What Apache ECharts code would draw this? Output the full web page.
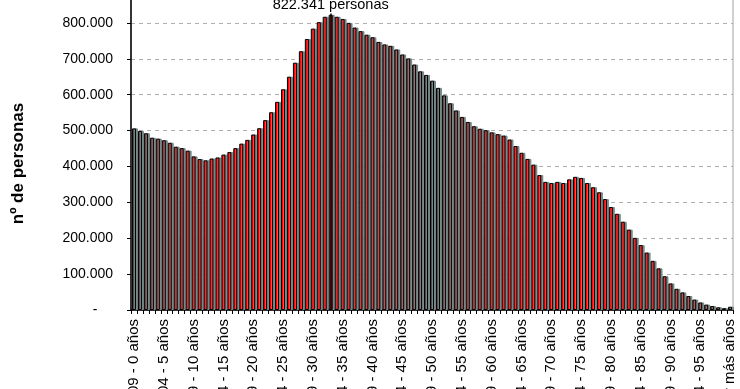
<!DOCTYPE html>
<html>
<head>
<meta charset="utf-8">
<script src="https://cdn.jsdelivr.net/npm/echarts@6/dist/echarts.min.js"></script>
<style>
html,body{margin:0;padding:0;background:#fff;}
#c{width:740px;height:389px;}
</style>
</head>
<body>
<div id="c"></div>
<script>
// Age (years) 0..100 ; 100 = "y más"
const refYear = 2009;
const lastAge = 100;
const personas = [
  506000, 499000, 492500, 480000, 477500, 473000, 466000, 455000, 451000, 444000,
  428000, 420500, 417000, 422000, 425000, 433000, 440000, 451000, 463500, 474000,
  489000, 506500, 529000, 551000, 580000, 615000, 650000, 689000, 721000, 755000,
  784000, 802000, 817000, 822341, 817000, 811000, 800000, 787000, 777000, 767000,
  760000, 747000, 740000, 736000, 726000, 712000, 701000, 684000, 665000, 655000,
  639000, 619000, 598000, 576000, 556000, 538000, 524000, 512000, 505000, 501000,
  495000, 490000, 486000, 475000, 457000, 438000, 421000, 405000, 376000, 357000,
  354000, 357000, 354000, 364000, 371000, 368000, 354000, 342000, 328000, 309000,
  287000, 268000, 246000, 224000, 201000, 181000, 160000, 137000, 116000, 94000,
  74000, 59000, 49000, 39000, 29000, 21000, 15000, 11000, 7500, 5000,
  9000
];
const maxLabel = "822.341 personas";
const maxAge = 33;
const yTicks = [0, 100000, 200000, 300000, 400000, 500000, 600000, 700000, 800000, 900000];
const yAxisTitle = "nº de personas";

const categories = [];
for (let a = 0; a <= lastAge; a++) {
  categories.push(a === lastAge ? (refYear - a) + " y más años" : (refYear - a) + " - " + a + " años");
}

function fmt(v) {
  if (v === 0) return "-    ";
  return String(v).replace(/\B(?=(\d{3})+(?!\d))/g, ".");
}

const FONT = 'Liberation Sans, Arial, sans-serif';
const chart = echarts.init(document.getElementById('c'), null, {renderer: 'canvas'});
chart.setOption({
  animation: false,
  backgroundColor: '#ffffff',
  textStyle: {fontFamily: FONT},
  grid: {left: 131, right: 7, top: -13, bottom: 79, show: true, borderColor: '#a0a0a0', borderWidth: 1,
         containLabel: false, outerBoundsMode: 'none'},
  xAxis: {
    type: 'category',
    data: categories,
    axisLine: {lineStyle: {color: '#000', width: 1.5}},
    axisTick: {show: true, interval: 0, length: 4, lineStyle: {color: '#000'}},
    axisLabel: {interval: 4, rotate: 90, margin: 9, color: '#000', fontSize: 15, fontFamily: FONT},
    splitLine: {show: false}
  },
  yAxis: {
    type: 'value',
    min: yTicks[0],
    max: yTicks[yTicks.length - 1],
    interval: 100000,
    name: yAxisTitle,
    nameLocation: 'middle',
    nameGap: 104,
    nameTextStyle: {fontWeight: 'bold', fontSize: 17, color: '#000', padding: [0, 30, 0, 0], fontFamily: FONT},
    axisLine: {show: true, lineStyle: {color: '#000', width: 1.5}},
    axisTick: {show: true, length: 4, lineStyle: {color: '#000'}},
    axisLabel: {margin: 18, color: '#000', fontSize: 14, formatter: fmt, fontFamily: FONT},
    splitLine: {show: true, lineStyle: {color: '#b0b0b0', type: [4, 4], width: 1}}
  },
  series: [{
    type: 'bar',
    data: personas,
    barWidth: 4,
    itemStyle: {
      color: '#ff0000',
      borderColor: '#000',
      borderWidth: 1,
      shadowColor: '#778888',
      shadowOffsetX: 2,
      shadowOffsetY: 0,
      shadowBlur: 0
    },
    markLine: {
      silent: true,
      symbol: ['none', 'none'],
      lineStyle: {color: '#000', type: 'solid', width: 1.5},
      label: {show: true, position: 'end', formatter: maxLabel, color: '#000', fontSize: 14.5, distance: 1},
      data: [[{coord: [maxAge, 0]}, {coord: [maxAge, 826000]}]]
    }
  }]
});
</script>
</body>
</html>
